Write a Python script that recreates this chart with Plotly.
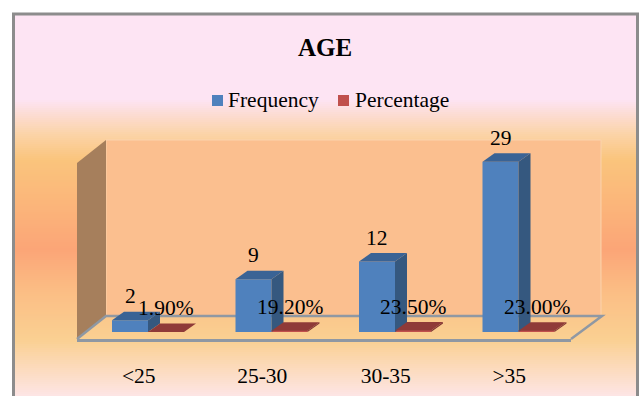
import plotly.graph_objects as go

categories = ["<25", "25-30", "30-35", ">35"]
frequency = [2, 9, 12, 29]
percentage = [0.019, 0.192, 0.235, 0.23]
percentage_labels = ["1.90%", "19.20%", "23.50%", "23.00%"]
series_names = ["Frequency", "Percentage"]

W, H = 640, 396
FONT = "Liberation Serif"
FS = 21.5
BLUE, BLUE_SIDE, BLUE_TOP = "#4F81BD", "#35587F", "#3A6395"
RED, RED_SIDE, RED_TOP = "#C0504D", "#7F3533", "#8F3A38"

X0, X1, Y_BOTTOM, Y_TOP = 77, 571, 339, 130
PX_PER_UNIT = 5.87
CAT_PX = (X1 - X0) / 4
ZERO_PX = 332
y_min = -(Y_BOTTOM - ZERO_PX) / PX_PER_UNIT
y_max = (ZERO_PX - Y_TOP) / PX_PER_UNIT
xs = list(range(len(categories)))

BAR_W = 36 / CAT_PX
OFF_BLUE = -26.75 / CAT_PX
OFF_RED = OFF_BLUE + BAR_W
DX = 12 / CAT_PX
DY = 8.5 / PX_PER_UNIT


def px(x):
    return x / W


def py(y):
    return 1 - y / H


def poly(points):
    return "M " + " L ".join(f"{px(a):.5f},{py(b):.5f}" for a, b in points) + " Z"


def hex2rgb(c):
    return tuple(int(c[i:i + 2], 16) for i in (1, 3, 5))


stops = [(0, "#FDE4F3"), (100, "#FDE4F3"), (115, "#FCDCD2"), (135, "#FBD3A6"), (160, "#FAC47C"),
         (205, "#FBB57A"), (250, "#FBA577"), (290, "#FBBD84"), (340, "#FAD092"), (372, "#FCDCC2"), (396, "#FDE5E5")]


def grad(y):
    for (a, ca), (b, cb) in zip(stops, stops[1:]):
        if a <= y <= b:
            t = (y - a) / (b - a)
            ra, rb = hex2rgb(ca), hex2rgb(cb)
            return "rgb(%d,%d,%d)" % tuple(round(p + (q - p) * t) for p, q in zip(ra, rb))
    return stops[-1][1]


shapes = []
for row in range(14, H, 2):
    shapes.append(dict(type="rect", xref="paper", yref="paper", layer="below", x0=px(14), x1=px(637),
                       y0=py(row + 2.5), y1=py(row), fillcolor=grad(row + 1), line_width=0))
# chart frame
shapes.append(dict(type="path", xref="paper", yref="paper", layer="below",
                   path=f"M {px(13.5)},{py(410)} L {px(13.5)},{py(14)} L {px(637.5)},{py(14)} L {px(637.5)},{py(410)}",
                   line=dict(color="#8C8C8C", width=3)))
# back wall, side wall, floor outline
shapes.append(dict(type="path", xref="paper", yref="paper", layer="below",
                   path=poly([(106, 140), (601, 140), (601, 316), (106, 316)]),
                   fillcolor="#FBBF8F", line=dict(color="#FBD3AE", width=1)))
shapes.append(dict(type="path", xref="paper", yref="paper", layer="below",
                   path=poly([(77, 163), (106, 140), (106, 316), (77, 339)]),
                   fillcolor="#A67F5C", line_width=0))
shapes.append(dict(type="path", xref="paper", yref="paper", layer="below",
                   path=f"M {px(77)},{py(339)} L {px(106)},{py(316)} L {px(602)},{py(316)} L {px(571)},{py(339)}",
                   line=dict(color="#8F98A3", width=2.5)))
# legend swatches
for x0, col in zip((212, 338), (BLUE, RED)):
    shapes.append(dict(type="rect", xref="paper", yref="paper", layer="below", x0=px(x0), x1=px(x0 + 11),
                       y0=py(106), y1=py(95), fillcolor=col, line_width=0))

fig = go.Figure()


def faces(values, offset, side_col, top_col):
    for x, v in zip(xs, values):
        l, r = x + offset, x + offset + BAR_W
        fig.add_trace(go.Scatter(x=[r, r + DX, r + DX, r, r], y=[0, DY, v + DY, v, 0], mode="lines",
                                 fill="toself", fillcolor=side_col, line=dict(width=0),
                                 showlegend=False, hoverinfo="skip"))
        fig.add_trace(go.Scatter(x=[l, l + DX, r + DX, r, l], y=[v, v + DY, v + DY, v, v], mode="lines",
                                 fill="toself", fillcolor=top_col, line=dict(width=0),
                                 showlegend=False, hoverinfo="skip"))


fig.add_trace(go.Bar(x=xs, y=frequency, name=series_names[0], marker=dict(color=BLUE, line_width=0),
                     width=BAR_W, offset=OFF_BLUE, showlegend=False))
fig.add_trace(go.Bar(x=xs, y=percentage, name=series_names[1], marker=dict(color=RED, line_width=0),
                     width=BAR_W, offset=OFF_RED, showlegend=False))
faces(frequency, OFF_BLUE, BLUE_SIDE, BLUE_TOP)
faces(percentage, OFF_RED, RED_SIDE, RED_TOP)

label_font = dict(family=FONT, size=FS, color="black")
annotations = []
for x, v in zip(xs, frequency):
    annotations.append(dict(x=x + OFF_BLUE + BAR_W / 2, y=v, text=str(v), showarrow=False, yshift=24,
                            yanchor="middle", xanchor="center", font=label_font))
for x, v, t in zip(xs, percentage, percentage_labels):
    annotations.append(dict(x=x + OFF_RED + BAR_W / 2, y=v, text=t, showarrow=False, yshift=24,
                            yanchor="middle", xanchor="center", font=label_font))
for x0, name in zip((226, 353), series_names):
    annotations.append(dict(xref="paper", yref="paper", x=px(x0), y=py(100), text=name, showarrow=False,
                            xanchor="left", yanchor="middle", font=label_font))

fig.update_layout(
    width=W, height=H, margin=dict(l=0, r=0, t=0, b=0),
    paper_bgcolor="white", plot_bgcolor="rgba(0,0,0,0)",
    barmode="overlay", shapes=shapes, annotations=annotations, showlegend=False,
    font=dict(family=FONT, color="black", size=FS),
    title=dict(text="<b>AGE</b>", x=325 / W, xanchor="center", y=py(47), yanchor="middle",
               font=dict(family=FONT, size=25, color="black")),
    xaxis=dict(domain=[px(X0), px(X1)], range=[-0.5, 3.5], tickmode="array", tickvals=xs, ticktext=categories,
               showgrid=False, zeroline=False, showline=True, linecolor="#8F98A3", linewidth=2.5,
               ticks="outside", ticklen=15, tickcolor="rgba(0,0,0,0)", tickfont=dict(family=FONT, size=FS)),
    yaxis=dict(domain=[py(Y_BOTTOM), py(Y_TOP)], range=[y_min, y_max], visible=False),
)
fig.write_html("out.html", config=dict(displayModeBar=False), post_script="document.body.style.margin='0';")
